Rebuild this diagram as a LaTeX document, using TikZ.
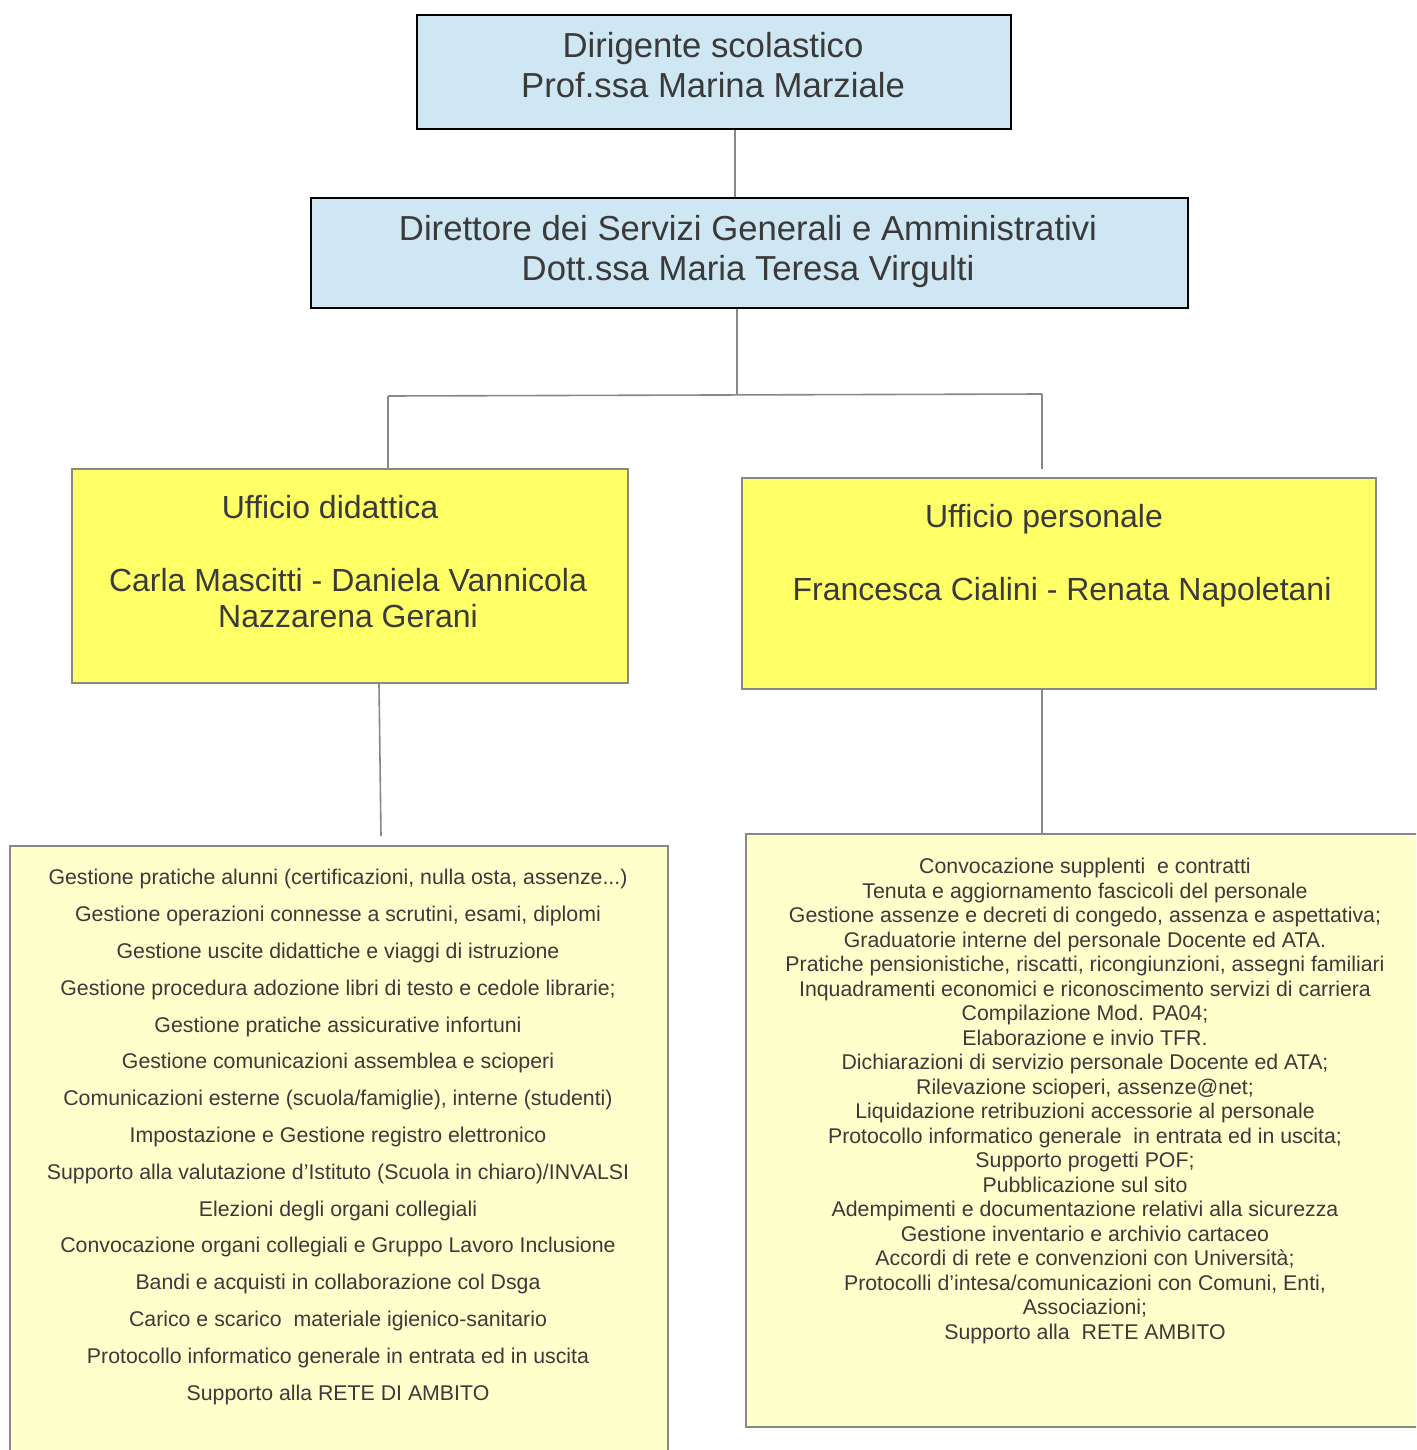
\documentclass[tikz,border=0pt]{standalone}
\usepackage{fontspec}
\setmainfont{Liberation Sans}
\definecolor{blfill}{RGB}{207,230,243}
\definecolor{yfill}{RGB}{255,255,102}
\definecolor{lyfill}{RGB}{255,255,204}
\definecolor{linegray}{RGB}{136,136,136}
\definecolor{txtgray}{RGB}{58,58,58}
\begin{document}
\begin{tikzpicture}[x=1pt,y=-1pt,
  bluebox/.style={draw=black,line width=2pt,fill=blfill,anchor=north west,inner sep=0pt},
  ybox/.style={draw=linegray,line width=1.8pt,fill=yfill,anchor=north west,inner sep=0pt},
  lybox/.style={draw=linegray,line width=1.8pt,fill=lyfill,anchor=north west,inner sep=0pt},
  conn/.style={draw=linegray,line width=1.6pt},
  txt/.style={text=txtgray,align=center,inner sep=0pt},
  big/.style={font=\fontsize{34.7}{40}\selectfont},
  mid/.style={font=\fontsize{32}{36}\selectfont},
  small/.style={font=\fontsize{21.3}{36.8}\selectfont},
  smallb/.style={font=\fontsize{21.3}{24.5}\selectfont}]
\useasboundingbox (0,0) rectangle (1416,1450);
\clip (0,0) rectangle (1416,1450);
\fill[white] (0,0) rectangle (1416,1450);
% boxes
\node[bluebox,minimum width=594,minimum height=114] (dir) at (416,14) {};
\node[bluebox,minimum width=877,minimum height=110] (dsga) at (310,197) {};
\node[ybox,minimum width=556,minimum height=214] (did) at (71,468) {};
\node[ybox,minimum width=634,minimum height=211] (per) at (741,477) {};
\node[lybox,minimum width=658,minimum height=640] (ldid) at (9,845) {};
\node[lybox,minimum width=700,minimum height=593] (lper) at (745,833) {};
% texts
\node[txt,big] (dirT) at (713,65) {Dirigente scolastico\\Prof.ssa Marina Marziale};
\node[txt,big] (dsgaT) at (748,252) {Direttore dei Servizi Generali e Amministrativi\\Dott.ssa Maria Teresa Virgulti};
\node[txt,mid] (didA) at (330,507) {Ufficio didattica};
\node[txt,mid] (didB) at (348,598) {Carla Mascitti - Daniela Vannicola\\Nazzarena Gerani};
\node[txt,mid] (perA) at (1044,519) {Ufficio personale};
\node[txt,mid] (perB) at (1062,592) {Francesca Cialini - Renata Napoletani};
\node[txt,small] (ldidT) at (338,1137) {Gestione pratiche alunni (certificazioni, nulla osta, assenze...)\\
Gestione operazioni connesse a scrutini, esami, diplomi\\
Gestione uscite didattiche e viaggi di istruzione\\
Gestione procedura adozione libri di testo e cedole librarie;\\
Gestione pratiche assicurative infortuni\\
Gestione comunicazioni assemblea e scioperi\\
Comunicazioni esterne (scuola/famiglie), interne (studenti)\\
Impostazione e Gestione registro elettronico\\
Supporto alla valutazione d’Istituto (Scuola in chiaro)/INVALSI\\
Elezioni degli organi collegiali\\
Convocazione organi collegiali e Gruppo Lavoro Inclusione\\
Bandi e acquisti in collaborazione col Dsga\\
Carico e scarico\ \ materiale igienico-sanitario\\
Protocollo informatico generale in entrata ed in uscita\\
Supporto alla RETE DI AMBITO};
\node[txt,smallb] (lperT) at (1085,1101) {Convocazione supplenti\ \ e contratti\\
Tenuta e aggiornamento fascicoli del personale\\
Gestione assenze e decreti di congedo, assenza e aspettativa;\\
Graduatorie interne del personale Docente ed ATA.\\
Pratiche pensionistiche, riscatti, ricongiunzioni, assegni familiari\\
Inquadramenti economici e riconoscimento servizi di carriera\\
Compilazione Mod. PA04;\\
Elaborazione e invio TFR.\\
Dichiarazioni di servizio personale Docente ed ATA;\\
Rilevazione scioperi, assenze@net;\\
Liquidazione retribuzioni accessorie al personale\\
Protocollo informatico generale\ \ in entrata ed in uscita;\\
Supporto progetti POF;\\
Pubblicazione sul sito\\
Adempimenti e documentazione relativi alla sicurezza\\
Gestione inventario e archivio cartaceo\\
Accordi di rete e convenzioni con Università;\\
Protocolli d’intesa/comunicazioni con Comuni, Enti,\\
Associazioni;\\
Supporto alla\ \ RETE AMBITO};
% connectors
\coordinate (c1) at (735,0);
\coordinate (j) at (737,395);
\coordinate (jl) at (388,396);
\coordinate (jr) at (1042,394);
\coordinate (e4) at (1042,469);
\coordinate (s3) at (379,0);
\coordinate (e5) at (381,836);
\coordinate (s4) at (1042,0);
\draw[conn] (dir.south -| c1) -- (dsga.north -| c1);
\draw[conn] (dsga.south -| j) -- (j);
\draw[conn] (jl) -- (jr);
\draw[conn] (jl) -- (did.north -| jl);
\draw[conn] (jr) -- (e4);
\draw[conn] (did.south -| s3) -- (e5);
\draw[conn] (per.south -| s4) -- (lper.north -| s4);
\end{tikzpicture}
\end{document}
